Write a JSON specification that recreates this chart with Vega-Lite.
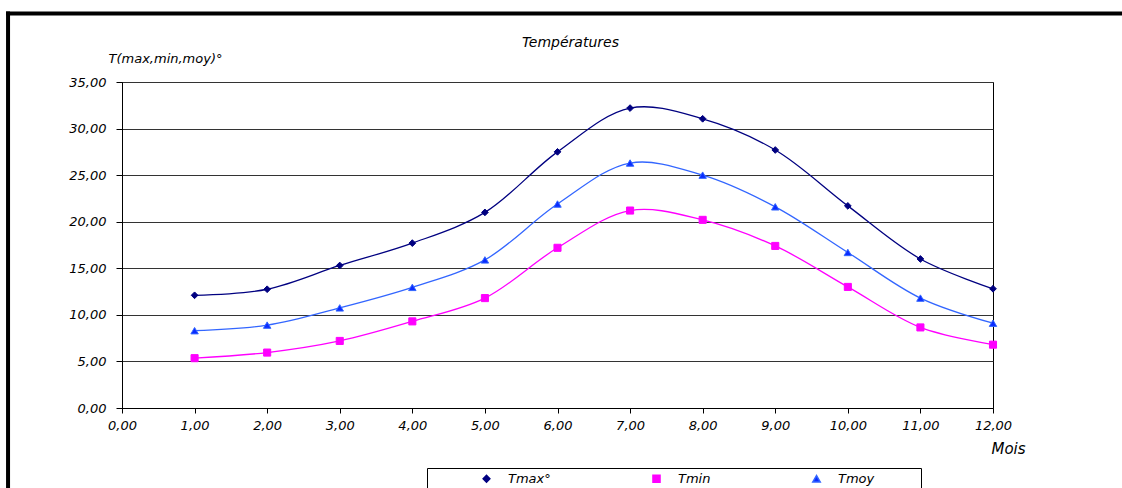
{
  "$schema": "https://vega.github.io/schema/vega-lite/v6.json",
  "width": 871,
  "height": 326,
  "autosize": {"type": "none"},
  "padding": {"left": 122, "top": 82, "right": 129, "bottom": 80},
  "background": "white",
  "title": {
    "text": "Températures",
    "font": "DejaVu Sans",
    "fontSize": 14,
    "fontStyle": "italic",
    "fontWeight": "normal",
    "color": "black",
    "anchor": "middle",
    "dx": 13,
    "baseline": "alphabetic",
    "offset": -50
  },
  "datasets": {
    "temps": [
      {"mois": 1, "serie": "Tmax°", "t": 12.1},
      {"mois": 2, "serie": "Tmax°", "t": 12.75},
      {"mois": 3, "serie": "Tmax°", "t": 15.3},
      {"mois": 4, "serie": "Tmax°", "t": 17.7},
      {"mois": 5, "serie": "Tmax°", "t": 21.0},
      {"mois": 6, "serie": "Tmax°", "t": 27.5},
      {"mois": 7, "serie": "Tmax°", "t": 32.2},
      {"mois": 8, "serie": "Tmax°", "t": 31.05},
      {"mois": 9, "serie": "Tmax°", "t": 27.7},
      {"mois": 10, "serie": "Tmax°", "t": 21.7},
      {"mois": 11, "serie": "Tmax°", "t": 16.0},
      {"mois": 12, "serie": "Tmax°", "t": 12.8},
      {"mois": 1, "serie": "Tmin", "t": 5.35},
      {"mois": 2, "serie": "Tmin", "t": 5.95},
      {"mois": 3, "serie": "Tmin", "t": 7.2},
      {"mois": 4, "serie": "Tmin", "t": 9.3},
      {"mois": 5, "serie": "Tmin", "t": 11.8},
      {"mois": 6, "serie": "Tmin", "t": 17.2},
      {"mois": 7, "serie": "Tmin", "t": 21.2},
      {"mois": 8, "serie": "Tmin", "t": 20.2},
      {"mois": 9, "serie": "Tmin", "t": 17.4},
      {"mois": 10, "serie": "Tmin", "t": 13.0},
      {"mois": 11, "serie": "Tmin", "t": 8.65},
      {"mois": 12, "serie": "Tmin", "t": 6.8},
      {"mois": 1, "serie": "Tmoy", "t": 8.3},
      {"mois": 2, "serie": "Tmoy", "t": 8.9},
      {"mois": 3, "serie": "Tmoy", "t": 10.75},
      {"mois": 4, "serie": "Tmoy", "t": 12.95},
      {"mois": 5, "serie": "Tmoy", "t": 15.9},
      {"mois": 6, "serie": "Tmoy", "t": 21.9},
      {"mois": 7, "serie": "Tmoy", "t": 26.3},
      {"mois": 8, "serie": "Tmoy", "t": 25.0},
      {"mois": 9, "serie": "Tmoy", "t": 21.6},
      {"mois": 10, "serie": "Tmoy", "t": 16.7},
      {"mois": 11, "serie": "Tmoy", "t": 11.8},
      {"mois": 12, "serie": "Tmoy", "t": 9.1}
    ]
  },
  "layer": [
    {
      "data": {"values": [{}]},
      "mark": {"type": "rule", "color": "black", "strokeWidth": 4, "strokeCap": "square"},
      "encoding": {
        "x": {"datum": -1.57, "type": "quantitative", "scale": {"domain": [0, 12], "nice": false, "zero": false}},
        "x2": {"datum": 14},
        "y": {"datum": 42.36, "type": "quantitative", "scale": {"domain": [0, 35], "nice": false, "zero": false}}
      }
    },
    {
      "data": {"values": [{}]},
      "mark": {"type": "rule", "color": "black", "strokeWidth": 4, "strokeCap": "square"},
      "encoding": {
        "x": {"datum": -1.57, "type": "quantitative", "scale": {"domain": [0, 12], "nice": false, "zero": false}},
        "y": {"datum": 42.36, "type": "quantitative", "scale": {"domain": [0, 35], "nice": false, "zero": false}},
        "y2": {"datum": -10}
      }
    },
    {
      "data": {"name": "temps"},
      "mark": {"type": "line", "interpolate": "catmull-rom", "strokeWidth": 1.3},
      "encoding": {
        "x": {
          "field": "mois", "type": "quantitative",
          "scale": {"domain": [0, 12], "nice": false, "zero": false},
          "axis": {
            "values": [0, 1, 2, 3, 4, 5, 6, 7, 8, 9, 10, 11, 12],
            "labelExpr": "replace(format(datum.value, '.2f'), '.', ',')",
            "grid": false,
            "title": "Mois",
            "titleX": 869,
            "titleY": 45,
            "titleAlign": "left",
            "titleBaseline": "alphabetic",
            "titleFont": "DejaVu Sans",
            "titleFontSize": 15,
            "titleFontStyle": "italic",
            "titleFontWeight": "normal",
            "titleColor": "black",
            "labelFont": "DejaVu Sans",
            "labelFontSize": 13,
            "labelFontStyle": "italic",
            "labelColor": "black",
            "labelFlush": false,
            "labelOverlap": false,
            "labelPadding": 6,
            "tickSize": 5,
            "tickColor": "black",
            "domainColor": "black"
          }
        },
        "y": {
          "field": "t", "type": "quantitative",
          "scale": {"domain": [0, 35], "nice": false, "zero": false},
          "axis": {
            "values": [0, 5, 10, 15, 20, 25, 30, 35],
            "labelExpr": "replace(format(datum.value, '.2f'), '.', ',')",
            "grid": true,
            "gridColor": "#333333",
            "gridWidth": 1,
            "title": "T(max,min,moy)°",
            "titleAngle": 0,
            "titleX": -14,
            "titleY": -20,
            "titleAlign": "left",
            "titleBaseline": "alphabetic",
            "titleFont": "DejaVu Sans",
            "titleFontSize": 13,
            "titleFontStyle": "italic",
            "titleFontWeight": "normal",
            "titleColor": "black",
            "labelFont": "DejaVu Sans",
            "labelFontSize": 13,
            "labelFontStyle": "italic",
            "labelColor": "black",
            "labelPadding": 10,
            "tickSize": 6,
            "tickColor": "black",
            "domainColor": "black"
          }
        },
        "color": {
          "field": "serie", "type": "nominal",
          "scale": {"domain": ["Tmax°", "Tmin", "Tmoy"], "range": ["#000080", "#FF00FF", "#3366FF"]},
          "legend": {
            "orient": "none",
            "legendX": 305,
            "legendY": 386,
            "direction": "horizontal",
            "title": " ",
            "titleOrient": "right",
            "titleFontSize": 1,
            "titlePadding": 43,
            "strokeColor": "black",
            "fillColor": "white",
            "padding": 4,
            "symbolSize": 200,
            "symbolOffset": 49,
            "labelOffset": 15,
            "columnPadding": 50,
            "labelFont": "DejaVu Sans",
            "labelFontSize": 13,
            "labelFontStyle": "italic",
            "labelColor": "black"
          }
        }
      }
    },
    {
      "data": {"name": "temps"},
      "mark": {"type": "point", "filled": true, "strokeWidth": 1, "opacity": 1},
      "encoding": {
        "x": {"field": "mois", "type": "quantitative", "scale": {"domain": [0, 12], "nice": false, "zero": false}},
        "y": {"field": "t", "type": "quantitative", "scale": {"domain": [0, 35], "nice": false, "zero": false}},
        "shape": {
          "field": "serie", "type": "nominal",
          "scale": {"domain": ["Tmax°", "Tmin", "Tmoy"], "range": ["diamond", "square", "triangle-up"]},
          "legend": null
        },
        "fill": {
          "field": "serie", "type": "nominal",
          "scale": {"domain": ["Tmax°", "Tmin", "Tmoy"], "range": ["#000080", "#FF00FF", "#0A2BFF"]},
          "legend": null
        },
        "stroke": {
          "field": "serie", "type": "nominal",
          "scale": {"domain": ["Tmax°", "Tmin", "Tmoy"], "range": ["#000080", "#FF00FF", "#3366FF"]},
          "legend": null
        },
        "size": {
          "field": "serie", "type": "nominal",
          "scale": {"domain": ["Tmax°", "Tmin", "Tmoy"], "range": [45, 55, 55]},
          "legend": null
        }
      }
    }
  ],
  "config": {
    "view": {"stroke": "black", "strokeWidth": 1},
    "font": "DejaVu Sans"
  }
}
